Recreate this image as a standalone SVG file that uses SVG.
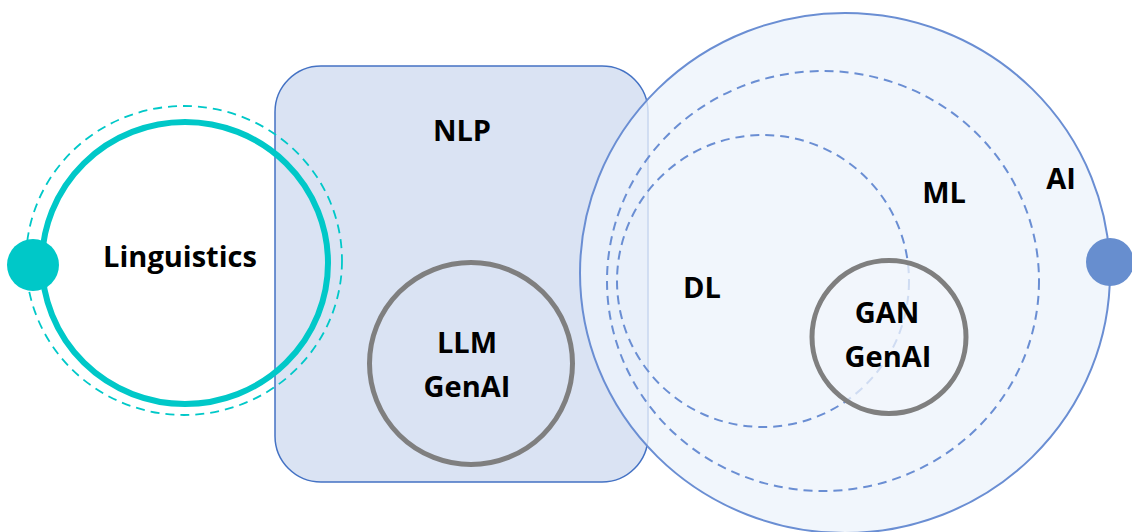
<svg xmlns="http://www.w3.org/2000/svg" width="1132" height="532" viewBox="0 0 1132 532">
  <style>
    .lbl { font-family: "Open Sans", "Liberation Sans", sans-serif; font-weight: bold; font-size: 29px; fill: #000; text-anchor: middle; }
    .dash { fill: none; stroke: #6A8ED3; stroke-width: 2; stroke-dasharray: 9 6; }
    .gray { stroke: #7F7F7F; stroke-width: 5; }
  </style>
  <rect width="1132" height="532" fill="#FFFFFF"/>
  <g id="nlp">
    <rect x="275" y="66" width="373" height="416" rx="46" ry="46" fill="#DAE3F3" stroke="#4472C4" stroke-width="1.5"/>
    <text class="lbl" x="462" y="141">NLP</text>
  </g>
  <g id="linguistics">
    <ellipse cx="184" cy="260.5" rx="158" ry="154.5" fill="none" stroke="#00C8C8" stroke-width="1.8" stroke-dasharray="9 6"/>
    <ellipse cx="185" cy="263" rx="143" ry="141" fill="none" stroke="#00C8C8" stroke-width="6"/>
    <circle cx="33" cy="265" r="26" fill="#00C8C8"/>
    <text class="lbl" x="180" y="267">Linguistics</text>
  </g>
  <g id="ai">
    <ellipse cx="845" cy="273" rx="265" ry="260" fill="#EDF3FB" fill-opacity="0.78" stroke="#6A8ED3" stroke-width="2"/>
    <circle cx="1110" cy="262" r="24" fill="#678ECF"/>
    <text class="lbl" x="1061" y="189">AI</text>
  </g>
  <g id="ml">
    <ellipse class="dash" cx="823" cy="281" rx="216" ry="210"/>
    <text class="lbl" x="944" y="203">ML</text>
  </g>
  <g id="dl">
    <ellipse class="dash" cx="763" cy="281" rx="146" ry="146"/>
    <text class="lbl" x="702" y="298">DL</text>
  </g>
  <g id="llm">
    <ellipse class="gray" cx="471" cy="363.5" rx="101.5" ry="101" fill="none"/>
    <text class="lbl" x="467" y="353">LLM</text>
    <text class="lbl" x="467" y="397">GenAI</text>
  </g>
  <g id="gan">
    <ellipse class="gray" cx="889" cy="337" rx="77" ry="76.5" fill="#F2F6FC" fill-opacity="0.75"/>
    <text class="lbl" x="887" y="323">GAN</text>
    <text class="lbl" x="888" y="367">GenAI</text>
  </g>
</svg>
